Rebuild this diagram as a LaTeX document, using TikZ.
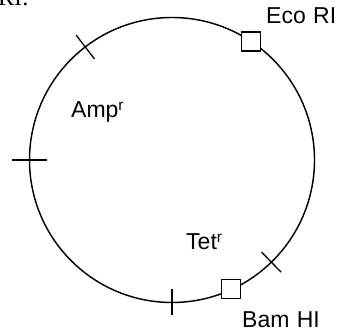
\documentclass[tikz,border=0pt]{standalone}
\usepackage{fontspec}
\usetikzlibrary{calc}
\setmainfont{Liberation Sans}
\newfontfamily\myserif{Liberation Serif}
\newcommand\supr{\raisebox{7.5pt}{\fontsize{15.5}{15.5}\selectfont r}}
\begin{document}
\begin{tikzpicture}[x=1pt,y=1pt,
  ring/.style={line width=1.45pt},
  tickmark/.style={line width=1.3pt},
  site/.style={draw, line width=1.3pt, fill=white, minimum size=19pt, inner sep=0pt},
  lbl/.style={anchor=base west, inner sep=0pt, font=\fontsize{23}{23}\selectfont}]
\useasboundingbox (0,0) rectangle (347,336);
\coordinate (c) at (172,176);
\draw[ring] (c) circle (142.5);
% tick marks
\coordinate (t1a) at ($(c)+(127.5:127.5)$);
\coordinate (t1b) at ($(c)+(127.5:157.5)$);
\coordinate (t2a) at ($(c)+(180:125)$);
\coordinate (t2b) at ($(c)+(180:160)$);
\coordinate (t3a) at ($(c)+(270:129)$);
\coordinate (t3b) at ($(c)+(270:155)$);
\coordinate (t4a) at ($(c)+(-45.8:128.5)$);
\coordinate (t4b) at ($(c)+(-45.8:156.5)$);
\draw[tickmark] (t1a) -- (t1b);
\draw[tickmark] (t2a) -- (t2b);
\draw[tickmark] (t3a) -- (t3b);
\draw[tickmark] (t4a) -- (t4b);
% restriction sites
\node[site] (eco) at ($(c)+(56.2:142.5)$) {};
\node[site] (bam) at ($(c)+(-65.3:142)$) {};
% labels
\node[lbl] (ecolbl) at (266,312) {Eco\hspace{1pt} RI};
\node[lbl] (bamlbl) at (242,8) {Bam\hspace{1pt} HI};
\node[lbl] (amp) at (71,218) {Amp\supr};
\node[lbl] (tet) at (186,86) {Tet\supr};
\node[anchor=base west, inner sep=0pt, font=\myserif\fontsize{24}{24}\selectfont] (frag) at (-2,330) {RI:};
\end{tikzpicture}
\end{document}
